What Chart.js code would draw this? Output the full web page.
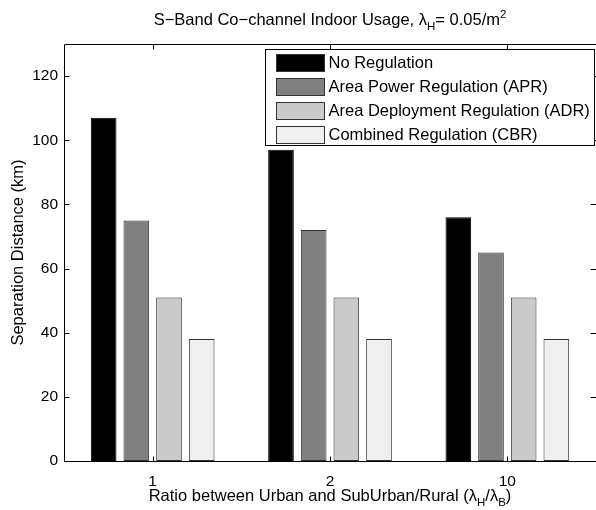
<!DOCTYPE html>
<html>
<head>
<meta charset="utf-8">
<script src="https://cdn.jsdelivr.net/npm/chart.js@4/dist/chart.umd.min.js"></script>
<style>
html,body{margin:0;padding:0;background:#fff;}
#wrap{width:596px;height:510px;position:relative;}
</style>
</head>
<body>
<div id="wrap"><canvas id="c" width="596" height="510"></canvas></div>
<script>
// ---- data ----
const categories = ['1', '2', '10'];
const seriesNames = ['No Regulation', 'Area Power Regulation (APR)', 'Area Deployment Regulation (ADR)', 'Combined Regulation (CBR)'];
const noRegulation = [107, 97, 76];
const aprValues = [75, 72, 65];
const adrValues = [51, 51, 51];
const cbrValues = [38, 38, 38];
const yTickValues = [0, 20, 40, 60, 80, 100, 120];
const yMax = 130;
const titleParts = [['S\u2212Band Co\u2212channel Indoor Usage, \u03BB', 'n'], ['H', 'sub'], ['= 0.05/m', 'n'], ['2', 'sup']];
const xTitleParts = [['Ratio between Urban and SubUrban/Rural (\u03BB', 'n'], ['H', 'sub'], ['/\u03BB', 'n'], ['B', 'sub'], [')', 'n']];
const yTitle = 'Separation Distance (km)';

// ---- styles ----
const FONT = '"Liberation Sans", Arial, Helvetica, sans-serif';
const FS = 16.5;
const TICK_FS = 15.5;
const colors = ['#000000', '#808080', '#cacaca', '#efefef'];
const edge = '#333333';

function partFont(kind) {
  return (kind === 'n' ? FS : 11.5) + 'px ' + FONT;
}
function drawRich(ctx, parts, cx, baseline) {
  let total = 0;
  const widths = parts.map(p => { ctx.font = partFont(p[1]); const w = ctx.measureText(p[0]).width; total += w; return w; });
  let x = cx - total / 2;
  ctx.textAlign = 'left';
  ctx.textBaseline = 'alphabetic';
  parts.forEach((p, i) => {
    ctx.font = partFont(p[1]);
    const dy = p[1] === 'sub' ? 5 : (p[1] === 'sup' ? -7 : 0);
    ctx.fillText(p[0], x, baseline + dy);
    x += widths[i];
  });
}

const decor = {
  id: 'decor',
  afterDatasetsDraw(chart) {
    const ctx = chart.ctx;
    const a = chart.chartArea;
    const xs = chart.scales.x, ys = chart.scales.y;
    ctx.save();
    ctx.strokeStyle = '#000';
    ctx.lineWidth = 1;
    ctx.beginPath();
    const L = Math.round(a.left) + 0.5, R = Math.round(a.right) + 0.5, T = Math.round(a.top) + 0.5, B = Math.round(a.bottom) + 0.5;
    ctx.moveTo(L, T); ctx.lineTo(R, T);
    ctx.moveTo(L, B); ctx.lineTo(R, B);
    ctx.moveTo(L, T); ctx.lineTo(L, B);
    ctx.moveTo(R, T); ctx.lineTo(R, B);
    yTickValues.forEach(v => {
      const y = Math.round(ys.getPixelForValue(v)) + 0.5;
      ctx.moveTo(L, y); ctx.lineTo(L + 5, y);
      ctx.moveTo(R, y); ctx.lineTo(R - 6, y);
    });
    categories.forEach((c, i) => {
      const x = Math.round(xs.getPixelForValue(i)) + 0.5;
      ctx.moveTo(x, B); ctx.lineTo(x, B - 5);
      ctx.moveTo(x, T); ctx.lineTo(x, T + 5);
    });
    ctx.stroke();
    ctx.restore();
  },
  afterDraw(chart) {
    const ctx = chart.ctx;
    const a = chart.chartArea;
    ctx.save();
    ctx.fillStyle = '#000';
    drawRich(ctx, titleParts, (a.left + a.right) / 2, 25);
    drawRich(ctx, xTitleParts, (a.left + a.right) / 2, 501);
    ctx.save();
    ctx.translate(23, (a.top + a.bottom) / 2);
    ctx.rotate(-Math.PI / 2);
    ctx.font = FS + 'px ' + FONT;
    ctx.textAlign = 'center';
    ctx.textBaseline = 'alphabetic';
    ctx.fillText(yTitle, 0, 0);
    ctx.restore();

    // legend
    const bx = 265.5, by = 49.5, bw = 329, bh = 96;
    ctx.fillStyle = '#fff';
    ctx.fillRect(bx, by, bw, bh);
    ctx.strokeStyle = '#000';
    ctx.lineWidth = 1;
    ctx.strokeRect(bx, by, bw, bh);
    chart.data.datasets.forEach((ds, i) => {
      const sy = 54.5 + i * 24;
      ctx.fillStyle = ds.backgroundColor;
      ctx.fillRect(276.5, sy, 48, 17);
      ctx.strokeStyle = edge;
      ctx.strokeRect(276.5, sy, 48, 17);
      ctx.fillStyle = '#000';
      ctx.font = FS + 'px ' + FONT;
      ctx.textAlign = 'left';
      ctx.textBaseline = 'middle';
      ctx.fillText(ds.label, 328.5, sy + 9);
    });
    ctx.restore();
  }
};

const seriesValues = [noRegulation, aprValues, adrValues, cbrValues];

new Chart(document.getElementById('c'), {
  type: 'bar',
  data: {
    labels: categories,
    datasets: seriesNames.map((n, i) => ({
      label: n,
      data: seriesValues[i],
      backgroundColor: colors[i],
      borderColor: i === 0 ? '#000' : edge,
      borderWidth: 1,
      borderSkipped: false,
      categoryPercentage: 0.737,
      barPercentage: 0.785
    }))
  },
  options: {
    responsive: false,
    devicePixelRatio: 1,
    animation: false,
    layout: { padding: { left: 0, right: 0, top: 44, bottom: 0 } },
    plugins: { legend: { display: false }, title: { display: false }, tooltip: { enabled: false } },
    scales: {
      x: {
        offset: true,
        grid: { display: false, drawTicks: false },
        border: { display: false },
        ticks: { color: '#000', font: { family: FONT, size: TICK_FS }, padding: 11, maxRotation: 0 },
        afterFit(s) { s.height = 49; }
      },
      y: {
        min: 0, max: yMax,
        grid: { display: false, drawTicks: false },
        border: { display: false },
        ticks: { stepSize: 20, color: '#000', font: { family: FONT, size: TICK_FS }, padding: 6 },
        afterBuildTicks(s) { s.ticks = s.ticks.filter(t => yTickValues.includes(t.value)); },
        afterFit(s) { s.width = 64; }
      }
    }
  },
  plugins: [decor]
});
</script>
</body>
</html>
